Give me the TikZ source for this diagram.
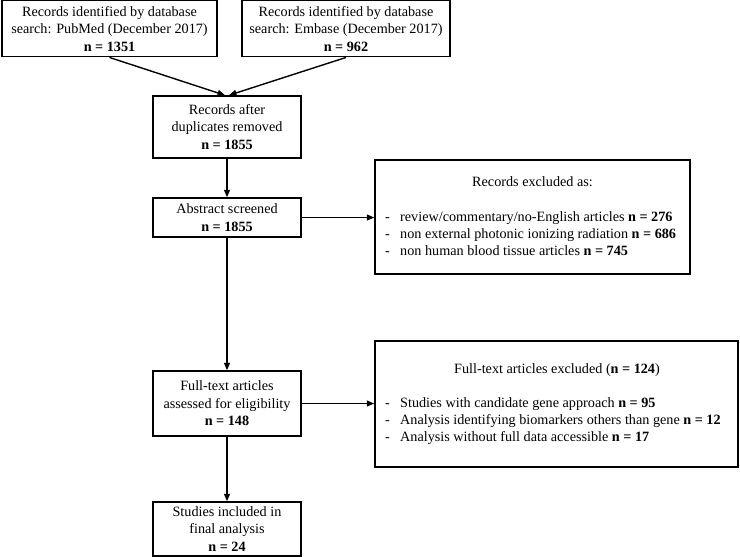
\documentclass[tikz,border=0pt]{standalone}
\usepackage{fontspec}
\setmainfont{Liberation Serif}
\usetikzlibrary{arrows.meta}
\begin{document}
\begin{tikzpicture}[x=1pt,y=-1pt,
  box/.style={draw, line width=1.5pt, align=center, inner sep=0pt, font=\fontsize{14.2}{17.5}\selectfont},
  conn/.style={line width=1.4pt, -{Triangle[length=7.5pt,width=6pt]}},
  txt/.style={inner sep=0pt, font=\fontsize{14.2}{17}\selectfont, text height=10pt, text depth=3pt}]
\useasboundingbox (0,0) rectangle (740,557);
\node[box, minimum width=215pt, minimum height=56pt] (b1) at (109.5,28.7)
  {Records identified by database\\search: PubMed (December 2017)\\\textbf{n = 1351}};
\node[box, minimum width=208pt, minimum height=56pt] (b2) at (346,28.7)
  {Records identified by database\\search: Embase (December 2017)\\\textbf{n = 962}};
\node[box, minimum width=148pt, minimum height=62pt] (b3) at (227,127)
  {Records after\\duplicates removed\\\textbf{n = 1855}};
\node[box, minimum width=148pt, minimum height=39pt] (b4) at (227,217.5)
  {Abstract screened\\\textbf{n = 1855}};
\node[box, minimum width=148pt, minimum height=65pt] (b5) at (227,403.5)
  {Full-text articles\\assessed for eligibility\\\textbf{n = 148}};
\node[box, minimum width=148pt, minimum height=54pt] (b6) at (227,529)
  {Studies included in\\final analysis\\\textbf{n = 24}};
\node[box, minimum width=315pt, minimum height=114pt] (ex1) at (532.5,217) {};
\node[box, minimum width=363pt, minimum height=126pt] (ex2) at (556.5,404) {};
% texts of exclusion boxes
\node[txt] (ex1t) at (532.5,183) {Records excluded as:};
\node[txt, anchor=west] (ex1d1) at (385,218) {-};
\node[txt, anchor=west] (ex1d2) at (385,235) {-};
\node[txt, anchor=west] (ex1d3) at (385,252) {-};
\node[txt, anchor=west] (ex1a) at (400,218) {review/commentary/no-English articles \textbf{n = 276}};
\node[txt, anchor=west] (ex1b) at (400,235) {non external photonic ionizing radiation \textbf{n = 686}};
\node[txt, anchor=west] (ex1c) at (400,252) {non human blood tissue articles \textbf{n = 745}};
\node[txt] (ex2t) at (557,370) {Full-text articles excluded (\textbf{n = 124})};
\node[txt, anchor=west] (ex2d1) at (385,404) {-};
\node[txt, anchor=west] (ex2d2) at (385,421) {-};
\node[txt, anchor=west] (ex2d3) at (385,438) {-};
\node[txt, anchor=west] (ex2a) at (400,404) {Studies with candidate gene approach \textbf{n = 95}};
\node[txt, anchor=west] (ex2b) at (400,421) {Analysis identifying biomarkers others than gene \textbf{n = 12}};
\node[txt, anchor=west] (ex2c) at (400,438) {Analysis without full data accessible \textbf{n = 17}};
% connectors
\draw[conn] (b1.south) -- ([xshift=-2pt]b3.north);
\draw[conn] (b2.south) -- ([xshift=2pt]b3.north);
\draw[conn] (b3.south) -- (b4.north);
\draw[conn] (b4.east) -- (b4.east -| ex1.west);
\draw[conn] (b4.south) -- (b5.north);
\draw[conn] (b5.east) -- (b5.east -| ex2.west);
\draw[conn] (b5.south) -- (b6.north);
\end{tikzpicture}
\end{document}
